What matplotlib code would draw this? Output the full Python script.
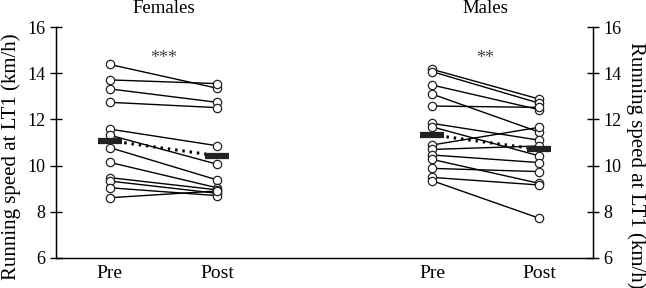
import matplotlib
matplotlib.use('Agg')
import matplotlib.pyplot as plt

# Running speed at LT1 (km/h), paired pre/post values per participant
females_pre = [14.38, 13.71, 13.32, 12.74, 11.58, 11.32, 10.78, 10.14, 9.48, 9.33, 9.04, 8.61]
females_post = [13.35, 13.55, 12.74, 12.51, 10.86, 10.06, 9.38, 9.04, 8.95, 8.80, 8.70, 8.90]
males_pre = [14.17, 14.07, 13.49, 13.10, 12.58, 11.83, 11.68, 10.89, 10.70, 10.46, 10.27, 9.88, 9.49, 9.35]
males_post = [12.88, 12.70, 12.42, 11.45, 12.52, 11.10, 10.42, 11.66, 10.85, 10.13, 9.23, 9.74, 9.16, 7.72]

# group means as drawn (bars)
female_means = [11.08, 10.43]
male_means = [11.33, 10.70]

groups = ['Females', 'Males']
stars = ['***', '**']
x_labels = ['Pre', 'Post', 'Pre', 'Post']
x_pos = [1, 2, 4, 5]

plt.rcParams['font.family'] = ['Liberation Serif', 'DejaVu Serif']

fig = plt.figure(figsize=(6.46, 2.88), dpi=100)
ax = fig.add_axes([0.0867, 0.1042, 0.8313, 0.802])

data = [(females_pre, females_post, female_means, 1),
        (males_pre, males_post, male_means, 4)]

for pre, post, means, x0 in data:
    for a, b in zip(pre, post):
        ax.plot([x0, x0 + 1], [a, b], color='black', lw=1.0, zorder=2,
                marker='o', markersize=6, markerfacecolor='white',
                markeredgecolor='#222222', markeredgewidth=0.9)
    ax.plot([x0, x0 + 1], means, color='black', lw=2.2,
            linestyle=(0, (0.8, 1.6)), zorder=3)
    for xi, m in zip([x0, x0 + 1], means):
        ax.hlines(m, xi - 0.112, xi + 0.112, color='#222222', lw=4.5, zorder=4)

for g, s, xc in zip(groups, stars, [1.5, 4.5]):
    ax.text(xc, 16.82, g, ha='center', va='center', fontsize=13.5, clip_on=False)
    ax.text(xc, 14.62, s, ha='center', va='center', fontsize=13, color='#444444')

ax.set_xlim(0.5, 5.5)
ax.set_ylim(6, 16)
ax.set_yticks([6, 8, 10, 12, 14, 16])
ax.set_xticks(x_pos)
ax.set_xticklabels(x_labels)
ax.tick_params(axis='x', length=0, labelsize=14, pad=5)
ax.tick_params(axis='y', direction='inout', length=8, width=1, labelsize=13)
ax.spines['top'].set_visible(False)
for sp in ['left', 'right', 'bottom']:
    ax.spines[sp].set_linewidth(1.0)
ax.set_ylabel('Running speed at LT1 (km/h)', fontsize=15, va='center')
ax.yaxis.set_label_coords(-0.0838, 0.437)

ax2 = ax.twinx()
ax2.set_ylim(6, 16)
ax2.set_yticks([6, 8, 10, 12, 14, 16])
ax2.tick_params(axis='y', direction='inout', length=8, width=1, labelsize=13)
ax2.spines['top'].set_visible(False)
ax2.set_ylabel('Running speed at LT1 (km/h)', fontsize=15, rotation=-90, va='center')
ax2.yaxis.set_label_coords(1.080, 0.403)

fig.savefig('out.png', dpi=100)
